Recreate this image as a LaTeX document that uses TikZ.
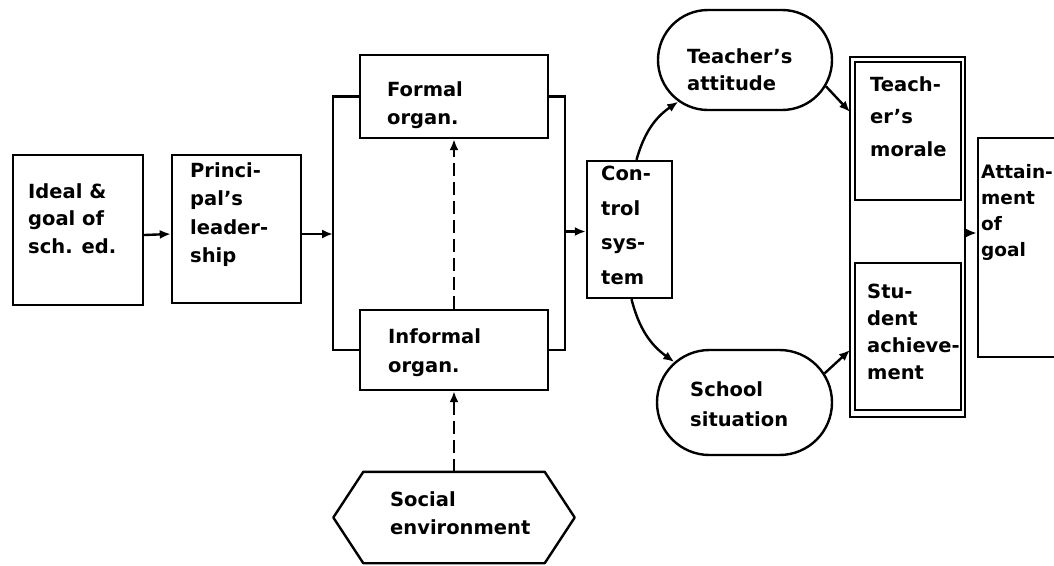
\documentclass[tikz,border=0pt]{standalone}
\usepackage{fontspec}
\setmainfont{DejaVu Sans}
\usetikzlibrary{arrows.meta,shapes.misc}
\begin{document}
\begin{tikzpicture}[x=1pt,y=-1pt,
  box/.style={draw, line width=2.4pt, inner sep=0pt},
  oval/.style={box, rounded rectangle},
  txt/.style={anchor=north west, inner sep=0pt, align=left,
    font=\fontsize{19.5}{#1}\selectfont\bfseries},
  txt/.default=28,
  ln/.style={line width=2.4pt},
  arr/.style={ln, -{Latex[length=11pt,width=9pt]}},
  dsh/.style={arr, dash pattern=on 13pt off 6pt}]
\path[use as bounding box] (0,0) rectangle (1054,565);

% boxes
\node[box, minimum width=130pt, minimum height=150pt] (ideal) at (78,230) {};
\node[box, minimum width=129pt, minimum height=148pt] (lead) at (236.5,229) {};
\node[box, minimum width=188pt, minimum height=83pt] (formal) at (454,96.5) {};
\node[box, minimum width=188pt, minimum height=80pt] (informal) at (454,350) {};
\node[box, minimum width=85pt, minimum height=137pt] (ctrl) at (629.5,229.5) {};
\node[oval, minimum width=174pt, minimum height=100pt] (att) at (745,60) {};
\node[oval, minimum width=175pt, minimum height=105pt] (sch) at (744.5,402.5) {};
\node[box, minimum width=115pt, minimum height=360pt] (frame) at (907.5,237) {};
\node[box, minimum width=106pt, minimum height=138pt] (morale) at (908,131) {};
\node[box, minimum width=106pt, minimum height=147pt] (stud) at (908,336.5) {};
\node[box, minimum width=97pt, minimum height=219pt] (goal) at (1026.5,247.5) {};

% hexagon for the social environment
\node[minimum width=241pt, minimum height=91pt, inner sep=0pt] (soc) at (454,517.5) {};
\draw[ln, line join=round] (soc.west) -- ([xshift=30pt]soc.north west) -- ([xshift=-30pt]soc.north east)
  -- (soc.east) -- ([xshift=-30pt]soc.south east) -- ([xshift=30pt]soc.south west) -- cycle;

% labels
\node[txt=27.5] (tIdeal) at (28,183) {Ideal \&\\goal of\\sch. ed.};
\node[txt=28.5] (tLead) at (190,162) {Princi-\\pal's\\leader-\\ship};
\node[txt=28] (tFormal) at (387,81) {Formal\\organ.};
\node[txt=29] (tInformal) at (388,328) {Informal\\organ.};
\node[txt=28] (tSoc) at (390,491) {Social\\environment};
\node[txt=34.5] (tCtrl) at (601,166) {Con-\\trol\\sys-\\tem};
\node[txt=27] (tAtt) at (687,48) {Teacher's\\attitude};
\node[txt=32.5] (tMor) at (870,76) {Teach-\\er's\\morale};
\node[txt=27] (tStud) at (867,284) {Stu-\\dent\\achieve-\\ment};
\node[txt=30] (tSch) at (690,381) {School\\situation};
\node[txt=26, font=\fontsize{18.5}{26}\selectfont\bfseries] (tGoal) at (981,164) {Attain-\\ment\\of\\goal};

% bracket joining the two organizations
\coordinate (brL) at (333,0);
\coordinate (brR) at (565,0);
\draw[ln] (formal.west) -| (brL |- informal.west) -- (informal.west);
\draw[ln] (formal.east) -| (brR |- informal.east) -- (informal.east);

% connectors
\draw[arr] ([yshift=-5pt]ideal.east) -- ([yshift=-5pt]lead.west);
\draw[arr] ([yshift=-5pt]lead.east) -- ([yshift=-5pt]lead.east -| brL);
\draw[arr] ([yshift=-2pt]ctrl.west -| brR) -- ([yshift=-2pt]ctrl.west);
\draw[dsh] (informal.north) -- (formal.south);
\draw[dsh] (soc.north) -- (informal.south);
\draw[arr] ([xshift=7pt]ctrl.north) to[bend left=20] (att.212);
\draw[arr] ([xshift=2pt]ctrl.south) to[bend right=20] (sch.150);
\coordinate (inA) at (850,112);
\coordinate (inS) at (850,350);
\draw[arr] (att.-18) -- (inA);
\draw[arr] (sch.20) -- (inS);
\draw[arr] ([yshift=4pt]frame.east) -- ([yshift=4pt]frame.east -| goal.west);
\end{tikzpicture}
\end{document}
